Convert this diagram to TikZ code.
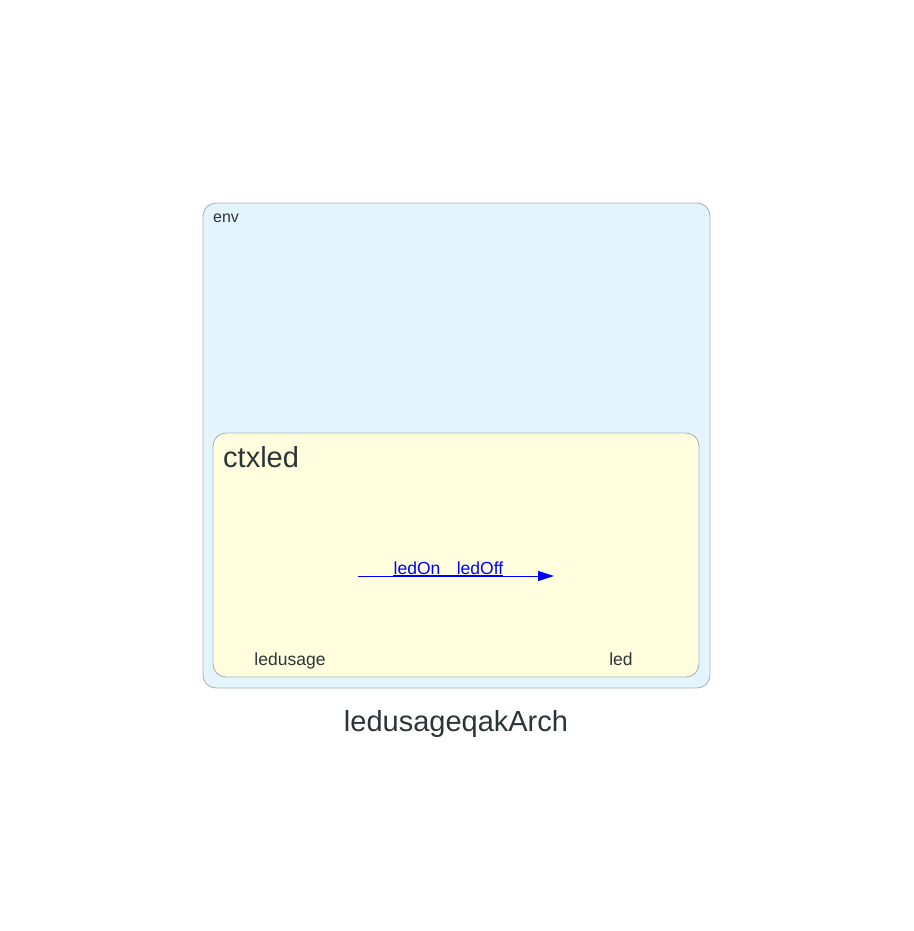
\documentclass[tikz,border=0pt]{standalone}
\usepackage{fontspec}
\setmainfont{Liberation Sans}
\usetikzlibrary{arrows.meta}
\definecolor{envfill}{HTML}{E3F4FC}
\definecolor{ctxfill}{HTML}{FEFEDF}
\definecolor{boxline}{HTML}{A9B5BD}
\definecolor{txt}{HTML}{2D3436}
\tikzset{
	cluster/.style={draw=boxline, line width=0.9pt, rounded corners=13pt},
	lbl/.style={text=txt, inner sep=0pt, font=\fontsize{#1}{#1}\selectfont},
	msg/.style={draw=blue, line width=0.9pt, -{Triangle[length=16pt,width=10pt]}},
	msglbl/.style={text=blue, inner sep=0pt, anchor=base, font=\fontsize{17.5}{17.5}\selectfont}
}
\begin{document}
\begin{tikzpicture}[x=1pt,y=-1pt]
		\useasboundingbox (0,0) rectangle (913,931);

		% clusters
		\draw[cluster, fill=envfill] (203,203) rectangle (710,688);
		\draw[cluster, fill=ctxfill] (213,433) rectangle (699,677);

		\node[lbl=16, anchor=base west] (env) at (213,222) {env};
		\node[lbl=29, anchor=base west] (ctxled) at (223,467) {ctxled};

		% actors
		\node[lbl=17.5, anchor=base] (ledusage) at (290,665) {ledusage};
		\node[lbl=17.5, anchor=base] (led) at (621,665) {led};

		% messages
		\coordinate (src) at (358,576);
		\coordinate (dst) at (554,576);
		\draw[msg] (src) -- (dst);
		\node[msglbl] (ledon) at (417,574) {ledOn};
		\node[msglbl] (ledoff) at (480,574) {ledOff};
		\draw[blue, line width=1.3pt] (ledon.base west) ++(0,1.5) -- ([yshift=-1.5pt]ledoff.base east);

		\node[lbl=29, anchor=base] (title) at (456,731) {ledusageqakArch};
	\end{tikzpicture}
\end{document}
